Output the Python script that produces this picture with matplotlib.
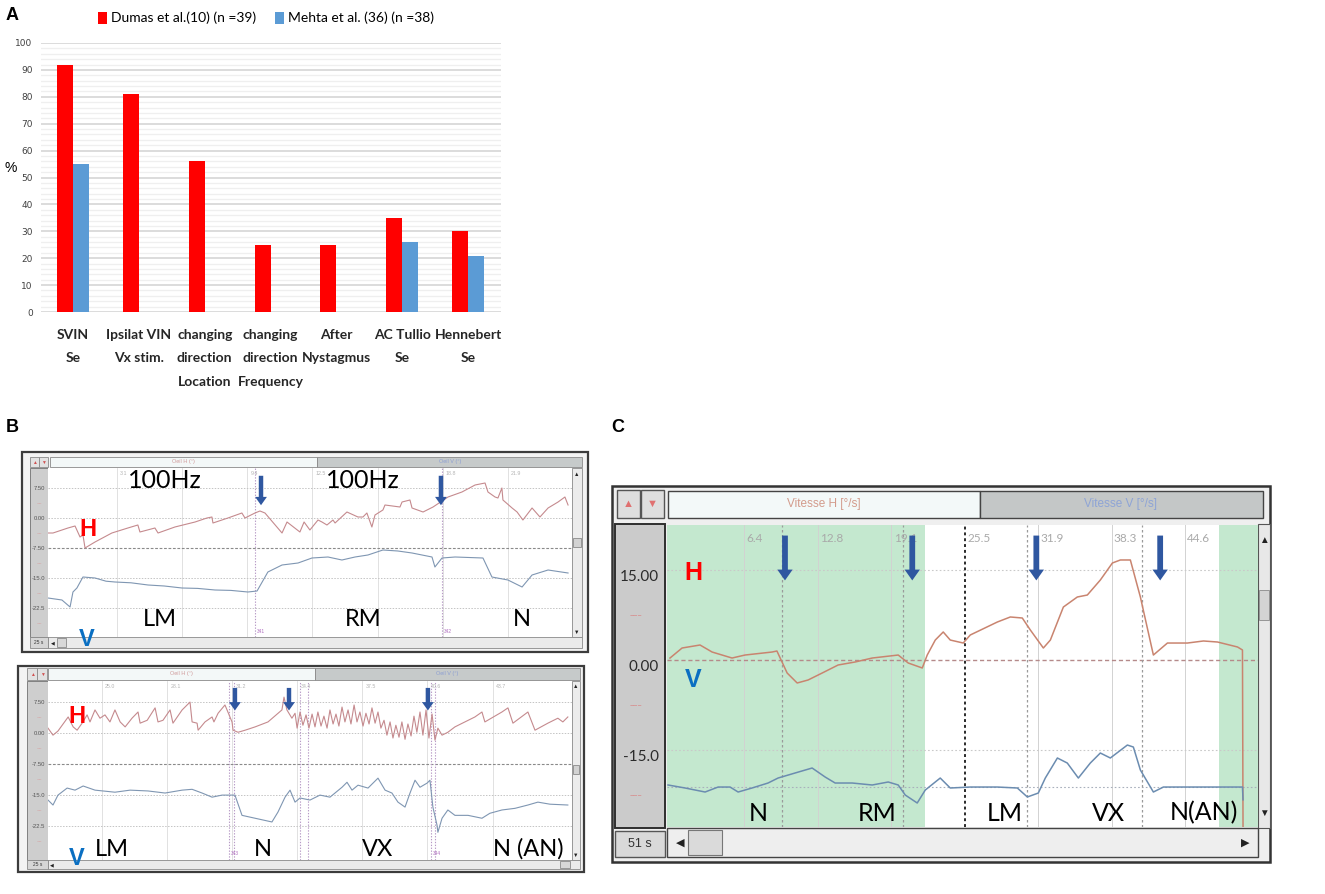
import matplotlib
matplotlib.use("Agg")
import matplotlib.pyplot as plt
from matplotlib import font_manager
from matplotlib.patches import Rectangle, FancyArrowPatch
import numpy as np

# ---------------- panel A data ----------------
categories = ["SVIN\nSe", "Ipsilat VIN\nVx stim.", "changing\ndirection\nLocation",
              "changing\ndirection\nFrequency", "After\nNystagmus", "AC Tullio\nSe", "Hennebert\nSe"]
dumas = [92, 81, 56, 25, 25, 35, 30]
mehta = [55, 0, 0, 0, 0, 26, 21]
series_names = ["Dumas et al.(10) (n =39)", "Mehta et al. (36) (n =38)"]
a_yticks = list(range(0, 101, 10))

# ---------------- panel B, upper record (t in s, position in deg) ----------------
b1_h = [(-0.19, -3.75), (0.05, -3.75), (0.77, -2.5), (1.11, -2.0), (1.35, -4.75), (1.49, -4.25),
        (1.59, -7.5), (2.07, -6.0), (2.88, -3.75), (3.65, -2.5), (4.13, -1.75), (4.23, -3.5),
        (4.95, -2.5), (5.10, -3.75), (5.91, -2.25), (6.88, -1.0), (7.45, 0.0), (7.69, 0.25),
        (7.74, -1.25), (8.46, 0.0), (9.13, 1.25), (9.28, 0.0), (9.76, 1.25), (10.0, 1.75),
        (10.24, 1.25), (11.06, -3.75), (11.30, -1.0), (11.92, -3.5), (12.12, -1.0), (12.40, -3.0),
        (12.79, -0.5), (12.98, -1.0), (13.22, -1.75), (13.51, -0.5), (13.61, -1.25), (14.18, 1.5),
        (14.71, 0.25), (14.95, 0.25), (15.14, 1.25), (15.38, -2.25), (15.53, 0.75), (15.91, 2.0),
        (16.01, 3.25), (16.73, 2.75), (16.83, 4.0), (17.21, 4.5), (17.31, 2.5), (17.84, 1.5),
        (18.32, 2.75), (19.04, 5.25), (19.71, 6.5), (20.34, 8.25), (20.82, 8.75), (20.96, 6.5),
        (21.30, 5.25), (21.44, 5.0), (21.63, 7.5), (21.68, 4.5), (22.12, 2.5), (22.36, 1.5),
        (22.64, -0.5), (23.08, 2.5), (23.46, 0.25), (23.85, 2.5), (24.33, 4.0), (24.66, 5.25),
        (24.81, 3.25)]
b1_v = [(-0.19, -20.0), (0.48, -20.5), (0.87, -22.25), (1.01, -18.5), (1.20, -17.5), (1.49, -14.75),
        (2.07, -15.0), (2.6, -15.8), (3.03, -16.0), (3.8, -16.2), (4.62, -16.75), (5.4, -17.0),
        (6.25, -17.5), (7.0, -17.6), (7.84, -18.0), (8.6, -18.1), (9.42, -18.5), (9.86, -18.25),
        (10.38, -13.5), (11.06, -11.75), (11.83, -11.25), (12.5, -10.0), (13.27, -9.75),
        (13.94, -10.5), (14.57, -9.75), (15.19, -9.25), (15.91, -8.0), (16.63, -8.25),
        (17.31, -8.75), (18.27, -9.75), (18.41, -12.25), (18.75, -10.0), (19.38, -9.75),
        (20.72, -10.0), (21.15, -14.75), (21.92, -15.5), (22.60, -17.25), (23.08, -14.25),
        (23.85, -13.0), (24.81, -13.75)]
b1_grid_t = [3.13, 6.26, 9.39, 12.52, 15.65, 18.78, 21.91]
# labels hidden under the "100Hz" notes are left blank, as in the screenshot
b1_grid_lab = ["3.1", "", "9.4", "12.5", "", "18.8", "21.9"]
b1_markers = [9.76, 18.75]
b1_marker_lab = [(9.76, "341"), (18.75, "342")]
b1_arrows = [10.05, 18.7]

# ---------------- panel B, lower record ----------------
b2_h = [(22.40, 1.2), (22.64, -0.5), (22.88, 0.5), (23.37, 3.9), (23.61, 1.5), (23.80, 0.7),
        (24.04, 2.4), (24.28, 4.4), (24.42, 2.7), (24.66, 5.6), (24.90, 3.6), (25.14, 4.4),
        (25.38, 2.7), (25.62, 5.6), (25.87, 2.7), (26.11, 1.5), (26.44, 3.6), (26.73, 5.1),
        (26.83, 2.4), (27.17, 3.1), (27.55, 6.1), (27.69, 2.7), (27.93, 3.1), (28.27, 5.6),
        (28.41, 2.4), (28.85, 5.6), (29.23, 7.5), (29.33, 2.7), (29.57, 2.4), (29.62, 0.7),
        (29.95, 2.7), (30.29, 3.9), (30.38, 2.7), (30.58, 4.8), (30.91, 6.8), (31.01, 5.6),
        (31.25, 2.7), (31.30, 0.7), (31.54, 0.2), (31.88, 0.7), (32.36, 1.5), (32.98, 2.7),
        (33.65, 5.6), (33.75, 8.7), (33.89, 5.6), (34.13, 3.6), (34.28, 4.8), (34.38, 1.2),
        (34.52, 5.1), (34.66, 1.9), (34.81, 4.4), (34.95, 1.2), (35.10, 4.6), (35.24, 1.5),
        (35.38, 5.1), (35.53, 1.7), (35.67, 4.1), (35.82, 1.2), (35.96, 5.6), (36.11, 2.2),
        (36.25, 4.6), (36.39, 1.7), (36.54, 6.3), (36.68, 2.7), (36.83, 5.6), (36.97, 2.2),
        (37.12, 6.8), (37.26, 2.7), (37.40, 5.1), (37.55, 1.7), (37.69, 4.8), (37.84, 2.2),
        (37.98, 6.1), (38.13, 2.4), (38.27, 5.1), (38.41, 1.2), (38.56, 3.1), (38.70, -0.5),
        (38.85, 2.7), (38.99, -1.2), (39.13, 1.9), (39.28, -1.0), (39.42, 2.7), (39.57, -1.5),
        (39.71, 2.2), (39.86, -0.7), (40.00, 4.1), (40.14, 0.2), (40.29, 5.1), (40.43, -0.5),
        (40.58, 5.6), (40.72, -1.2), (40.87, 4.6), (41.01, -1.7), (41.15, 1.2), (41.35, -0.5),
        (41.63, 0.2), (41.97, 1.5), (42.93, 3.9), (43.27, 5.1), (43.41, 2.7), (44.23, 5.1),
        (44.52, 6.1), (44.76, 2.4), (45.48, 5.1), (45.82, 0.7), (46.44, 2.4), (46.92, 3.6),
        (47.16, 2.7), (47.40, 3.9)]
b2_v = [(22.40, -16.2), (22.64, -17.4), (22.88, -15.0), (23.32, -13.3), (23.70, -13.8),
        (24.09, -12.8), (24.66, -13.8), (25.62, -14.3), (26.35, -13.8), (27.21, -14.0),
        (28.03, -14.5), (28.85, -13.8), (29.33, -13.6), (29.81, -14.5), (30.29, -15.5),
        (30.77, -15.0), (31.39, -15.0), (31.73, -19.9), (32.36, -20.6), (33.17, -21.5),
        (33.46, -19.1), (33.80, -15.5), (34.04, -13.8), (34.28, -16.7), (34.52, -15.7),
        (35.00, -16.2), (35.48, -15.0), (35.96, -15.5), (36.54, -13.1), (36.78, -11.9),
        (37.02, -13.8), (37.31, -12.6), (37.79, -13.3), (38.27, -10.9), (38.61, -13.8),
        (38.94, -14.5), (39.23, -16.7), (39.57, -17.9), (39.81, -14.5), (40.05, -11.4),
        (40.29, -13.1), (40.63, -12.1), (40.77, -11.4), (40.91, -17.9), (41.11, -22.3),
        (41.15, -24.0), (41.35, -20.6), (41.63, -18.6), (41.97, -19.9), (42.60, -19.9),
        (43.27, -20.6), (43.65, -19.4), (44.23, -18.6), (44.86, -18.2), (45.48, -17.4),
        (45.96, -16.7), (46.54, -17.2), (47.40, -17.4)]
b2_grid_t = [25.0, 28.13, 31.26, 34.39, 37.52, 40.65, 43.78]
b2_grid_lab = ["25.0", "28.1", "31.2", "34.4", "37.5", "40.6", "43.7"]
b2_markers = [31.11, 31.35, 34.52, 34.90, 40.82, 41.01]
b2_marker_lab = [(31.11, "343"), (40.82, "344")]
b2_arrows = [31.39, 33.99, 40.67]

b_yticks = [7.5, 0.0, -7.5, -15.0, -22.5]
b_ylabels = ["7.50", "0.00", "-7.50", "-15.0", "-22.5"]
b_minor = [3.75, -3.75, -11.25, -18.75, -26.25]

# ---------------- panel C (t in s, velocity in deg/s) ----------------
c_h = [(-0.09, 0.33), (0.96, 2.0), (2.52, 2.5), (3.57, 1.33), (5.30, 0.33), (6.43, 0.83),
       (8.78, 1.33), (9.2, 1.5), (10.09, -2.17), (10.96, -3.83), (11.91, -3.33), (13.13, -2.17),
       (14.52, -0.83), (16.0, -0.33), (17.48, 0.33), (19.74, 0.83), (20.61, -0.5), (21.83, -1.33),
       (22.26, 0.83), (22.96, 3.33), (23.65, 4.67), (24.26, 3.33), (25.39, 2.83), (26.0, 4.17),
       (28.35, 6.33), (29.48, 7.17), (30.52, 7.0), (31.22, 5.0), (32.35, 2.0), (32.96, 3.33),
       (34.09, 8.83), (35.3, 10.5), (36.17, 10.83), (37.3, 13.33), (38.35, 16.17), (39.04, 16.67),
       (39.91, 16.67), (40.78, 10.5), (41.91, 0.83), (43.13, 2.83), (44.87, 2.83), (46.26, 3.17),
       (47.48, 3.0), (49.22, 2.17), (49.65, 1.67), (49.7, -28.3)]
c_v = [(-0.26, -20.83), (1.22, -21.33), (2.96, -22.0), (4.09, -21.17), (5.13, -21.17),
       (5.83, -22.0), (7.04, -21.33), (8.43, -20.5), (9.30, -19.67), (10.78, -18.83),
       (12.26, -18.0), (13.39, -19.5), (14.26, -20.5), (15.74, -20.5), (17.48, -20.83),
       (18.87, -20.33), (19.74, -20.83), (20.35, -22.5), (21.39, -23.83), (22.09, -21.67),
       (22.96, -20.33), (23.39, -19.67), (24.26, -21.33), (26.0, -21.17), (28.35, -21.17),
       (30.09, -21.33), (30.96, -22.83), (31.91, -22.17), (32.52, -19.67), (33.57, -16.33),
       (34.43, -17.17), (35.39, -19.67), (36.43, -17.17), (37.3, -15.5), (38.17, -16.33),
       (39.65, -14.17), (40.17, -14.5), (40.78, -18.33), (41.91, -22.0), (42.78, -21.17),
       (45.74, -21.17), (49.65, -21.17), (49.7, -23.3)]
c_grid_t = [6.38, 12.76, 19.14, 25.52, 31.9, 38.28, 44.66]
c_grid_lab = ["6.4", "12.8", "19.1", "25.5", "31.9", "38.3", "44.6"]
c_markers = [9.65, 20.17, 30.96, 40.96]
c_arrows = [9.9, 20.96, 31.74, 42.5]
c_green = [(-0.35, 22.1), (47.6, 51.0)]
c_yticks = [15.0, 0.0, -15.0]
c_ylabels = ["15.00", "0.00", "-15.0"]
c_minor = [7.5, -7.5, -22.5]

# ---------------- fonts ----------------
W, H = 1325, 894
fig = plt.figure(figsize=(W / 100, H / 100), dpi=100)
installed = {f.name for f in font_manager.fontManager.ttflist}
LATO = "Lato" if "Lato" in installed else "DejaVu Sans"
ARIAL = "Liberation Sans" if "Liberation Sans" in installed else "DejaVu Sans"
SYMS = [ARIAL, "DejaVu Sans"]
ARROW = "#2f57a0"
HRED = "#ff0000"
VBLUE = "#0a6fc2"


def px_axes(x0, y0, x1, y1, **kw):
    return fig.add_axes([x0 / W, 1 - y1 / H, (x1 - x0) / W, (y1 - y0) / H], **kw)


# overlay in pixel units for the window chrome and panel letters
bg = fig.add_axes([0, 0, 1, 1])
bg.set_xlim(0, W)
bg.set_ylim(H, 0)
bg.axis("off")


def box(x0, y0, x1, y1, fc, ec="#8a8a8a", lw=0.6):
    bg.add_patch(Rectangle((x0, y0), x1 - x0, y1 - y0, facecolor=fc, edgecolor=ec, lw=lw))


def small(x, y, s, size, color="#333333", **kw):
    bg.text(x, y, s, fontsize=size, color=color, ha="center", va="center", family=SYMS, **kw)


for letter, x, y in [("A", 12, 15), ("B", 12, 427), ("C", 618, 427)]:
    bg.text(x, y, letter, fontsize=13, fontweight="bold", family=ARIAL, ha="center", va="center")

# ---------------- panel A ----------------
axA = px_axes(41, 43, 501, 312)
xs = np.arange(len(categories))
bw = 0.243
ha_ = axA.bar(xs - bw / 2, dumas, bw, color="#ff0000", zorder=3)
hb_ = axA.bar(xs + bw / 2, mehta, bw, color="#5b9bd5", zorder=3)
axA.set_xlim(-0.486, 6.5)
axA.set_ylim(0, 100)
axA.set_yticks(a_yticks)
axA.set_yticks(np.arange(0, 101, 2), minor=True)
axA.grid(which="minor", axis="y", color="#efefef", lw=0.9, zorder=0)
axA.grid(which="major", axis="y", color="#d6d6d6", lw=1.2, zorder=1)
axA.tick_params(axis="y", which="both", length=0, pad=6, labelsize=6.5, labelcolor="#404040")
axA.set_xticks(xs)
axA.set_xticklabels(categories, family=LATO, fontweight="bold", fontsize=10,
                    linespacing=2.15, color="#262626")
axA.tick_params(axis="x", length=0, pad=12)
for s in axA.spines.values():
    s.set_visible(False)
bg.text(11, 168, "%", fontsize=10, ha="center", va="center", family=ARIAL)
fig.legend([ha_, hb_], series_names, loc="center", bbox_to_anchor=(266 / W, 1 - 18 / H),
           ncol=2, frameon=False, prop=dict(family=LATO, size=10),
           handlelength=0.6, handleheight=0.95, handletextpad=0.3, columnspacing=1.4)

# ---------------- window chrome for B and C ----------------
# upper B window
box(22, 452, 588, 652, "#f3f3f3", ec="#3c3c3c", lw=1.6)
box(30, 457, 39, 467, "#e2e2e2")
box(39, 457, 48, 467, "#e2e2e2")
small(34.5, 462, "\u25b2", 3.5, "#d05050")
small(43.5, 462, "\u25bc", 3.5, "#d05050")
box(50, 457, 317, 467, "#f3f8f8")
box(317, 457, 582, 467, "#c6caca")
small(183, 462, "Oeil H (\u00b0)", 4, "#d09a9a")
small(450, 462, "Oeil V (\u00b0)", 4, "#8c9ed2")
box(30, 468, 48, 637, "#cecece", ec="#707070")
box(572, 468, 582, 637, "#ececec")
small(577, 474, "\u25b2", 4, "#222222")
small(577, 632, "\u25bc", 4, "#222222")
box(573, 538, 581, 547, "#d2d2d2")
box(48, 637, 582, 648, "#ebebeb")
box(30, 637, 48, 648, "#d6d6d6")
small(39, 642.5, "25 s", 3.5)
small(53, 642.5, "\u25c0", 3.5, "#222222")
box(57, 638, 66, 647, "#d8d8d8")

# lower B window
box(18, 666, 584, 872, "#f3f3f3", ec="#3c3c3c", lw=1.6)
box(27, 668, 37, 680, "#e2e2e2")
box(37, 668, 47, 680, "#e2e2e2")
small(32, 674, "\u25b2", 3.5, "#d05050")
small(42, 674, "\u25bc", 3.5, "#d05050")
box(48, 668, 315, 680, "#f3f8f8")
box(315, 668, 580, 680, "#c6caca")
small(181, 674, "Oeil H (\u00b0)", 4, "#d09a9a")
small(447, 674, "Oeil V (\u00b0)", 4, "#8c9ed2")
box(27, 681, 48, 860, "#cecece", ec="#707070")
box(572, 681, 580, 860, "#ececec")
small(576, 687, "\u25b2", 4, "#222222")
small(576, 855, "\u25bc", 4, "#222222")
box(573, 765, 579, 774, "#d2d2d2")
box(48, 860, 580, 869, "#ebebeb")
box(27, 860, 48, 869, "#d6d6d6")
small(37.5, 864.5, "25 s", 3.5)
small(52, 864.5, "\u25c0", 3.5, "#222222")
box(560, 861, 570, 868, "#d8d8d8")

# C window
box(612, 486, 1270, 862, "#efefef", ec="#333333", lw=1.8)
box(617, 490, 640, 518, "#dedede", ec="#555555", lw=1.0)
box(641, 490, 664, 518, "#dedede", ec="#555555", lw=1.0)
small(628.5, 504, "\u25b2", 8, "#e07070")
small(652.5, 504, "\u25bc", 8, "#e07070")
box(668, 491, 980, 518, "#f3f9f9", ec="#444444", lw=1.0)
box(980, 491, 1263, 518, "#c4c7c7", ec="#444444", lw=1.0)
small(824, 504.5, "Vitesse H [\u00b0/s]", 8.5, "#d39b8c")
small(1121, 504.5, "Vitesse V [\u00b0/s]", 8.5, "#8ea4d6")
box(615, 524, 665, 828, "#cbcbcb", ec="#2e2e2e", lw=1.4)
box(1258, 524, 1270, 828, "#e8e8e8", ec="#555555", lw=0.8)
small(1264, 540, "\u25b2", 7, "#222222")
small(1264, 813, "\u25bc", 7, "#222222")
box(1259, 590, 1269, 620, "#d4d4d4")
box(667, 828, 1258, 857, "#eeeeee", ec="#444444", lw=1.0)
box(615, 831, 665, 857, "#d9d9d9", ec="#555555", lw=1.0)
small(640, 844, "51 s", 9, "#333333")
small(680, 842.5, "\u25c0", 8, "#222222")
box(688, 830, 722, 855, "#dadada", ec="#777777", lw=0.8)
small(1245, 842.5, "\u25b6", 8, "#222222")


# ---------------- trace axes ----------------
def trace_axes(x0, y0, x1, y1, xlim, ylim):
    ax = px_axes(x0, y0, x1, y1)
    ax.set_xlim(*xlim)
    ax.set_ylim(*ylim)
    ax.set_facecolor("white")
    for s in ax.spines.values():
        s.set_visible(False)
    ax.set_xticks([])
    ax.tick_params(axis="y", which="both", length=0)
    return ax


def draw_arrow(ax, t, v0, v1, scale):
    ax.add_patch(FancyArrowPatch((t, v0), (t, v1),
                                 arrowstyle="simple,head_length=0.6,head_width=0.85,tail_width=0.32",
                                 mutation_scale=scale, color=ARROW, lw=0, zorder=6, clip_on=False))


def b_panel(box_px, xlim, ylim, h, v, grid_t, grid_lab, markers, marker_lab, arrows, arr_v):
    ax = trace_axes(*box_px, xlim, ylim)
    for t in grid_t:
        ax.axvline(t, color="#dcdcdc", lw=0.6, zorder=1)
    for t, lab in zip(grid_t, grid_lab):
        if lab:
            ax.text(t + 0.15, 0.985, lab, transform=ax.get_xaxis_transform(), fontsize=3.8,
                    color="#b4b4b4", ha="left", va="top", family=ARIAL)
    for y in b_yticks:
        if y == -7.5:
            ax.axhline(y, color="#8a8a8a", lw=0.8, ls=(0, (2.5, 1.5)), zorder=1)
        else:
            ax.axhline(y, color="#c4c4c4", lw=0.7, ls=(0, (1.5, 1.5)), zorder=1)
    for t in markers:
        ax.axvline(t, color="#b79ac6", lw=0.8, ls=(0, (1.2, 1.4)), zorder=2)
    for t, lab in marker_lab:
        ax.text(t + 0.1, 0.02, lab, transform=ax.get_xaxis_transform(), fontsize=3.5,
                color="#b070c0", ha="left", va="bottom", family=ARIAL)
    ht, hv = zip(*h)
    vt, vv = zip(*v)
    ax.plot(ht, hv, color="#c58a8e", lw=0.8, zorder=3)
    ax.plot(vt, vv, color="#7f96b2", lw=0.8, zorder=3)
    ax.set_yticks(b_yticks)
    ax.set_yticklabels(b_ylabels, fontsize=4.2, color="#555555", family=ARIAL)
    ax.set_yticks(b_minor, ["\u2013\u2013"] * len(b_minor), minor=True)
    ax.tick_params(axis="y", which="major", pad=2)
    ax.tick_params(axis="y", which="minor", pad=4, labelsize=4, labelcolor="#d89a9a")
    for t in arrows:
        draw_arrow(ax, t, arr_v[0], arr_v[1], 10)
    return ax


axB1 = b_panel((48, 468, 572, 637), (-0.19, 25.0), (-29.75, 12.5), b1_h, b1_v,
               b1_grid_t, b1_grid_lab, b1_markers, b1_marker_lab, b1_arrows, (11.25, 2.5))
axB2 = b_panel((48, 681, 572, 860), (22.40, 47.6), (-30.7, 12.6), b2_h, b2_v,
               b2_grid_t, b2_grid_lab, b2_markers, b2_marker_lab, b2_arrows, (11.6, 4.8))

txt = dict(family=LATO, ha="center", va="center", color="black")
hv_txt = dict(family=ARIAL, fontweight="bold", ha="center", va="center")
for s, t, v in [("100Hz", 5.43, 9.5), ("100Hz", 14.95, 9.5)]:
    axB1.text(t, v, s, fontsize=18, zorder=5, **txt)
for s, t in [("LM", 5.19), ("RM", 14.95), ("N", 22.6)]:
    axB1.text(t, -25.3, s, fontsize=17, **txt)
axB1.text(1.73, -3.0, "H", fontsize=17, color=HRED, **hv_txt)
axB1.text(1.68, -30.3, "V", fontsize=17, color=VBLUE, **hv_txt)

for s, t in [("LM", 25.48), ("N", 32.74), ("VX", 38.27), ("N (AN)", 45.48)]:
    axB2.text(t, -28.1, s, fontsize=17, **txt)
axB2.text(23.8, 3.9, "H", fontsize=17, color=HRED, **hv_txt)
axB2.text(23.8, -30.3, "V", fontsize=17, color=VBLUE, **hv_txt)

# ---------------- panel C ----------------
axC = trace_axes(667, 525, 1258, 827, (-0.35, 51.0), (-27.83, 22.5))
for a, b in c_green:
    axC.axvspan(a, b, color="#c4e8cf", lw=0, zorder=0)
for t, lab in zip(c_grid_t, c_grid_lab):
    if lab == "25.5":
        axC.axvline(t, color="#2a2a2a", lw=1.4, ls=(0, (1.5, 1.5)), zorder=2)
    else:
        axC.axvline(t, color="#d2d2d2", lw=0.7, zorder=1)
    axC.text(t + 0.2, 0.975, lab, transform=axC.get_xaxis_transform(), family=LATO,
             fontsize=8.5, color="#a9a9a9", ha="left", va="top")
for t in c_markers:
    axC.axvline(t, color="#9a9a9a", lw=0.9, ls=(0, (2, 2)), zorder=2)
axC.axhline(15, color="#c9c9c9", lw=0.8, ls=(0, (1.5, 2)), zorder=1)
axC.axhline(0, color="#b58a8a", lw=1.0, ls=(0, (3, 2)), zorder=1)
axC.axhline(-15, color="#c9c9c9", lw=0.8, ls=(0, (1.5, 2)), zorder=1)
axC.axhline(-21.2, color="#a9b0bc", lw=0.8, ls=(0, (1.5, 2)), zorder=1)
ct, cv = zip(*c_h)
axC.plot(ct, cv, color="#c9846f", lw=1.1, zorder=3)
vt, vv = zip(*c_v)
axC.plot(vt, vv, color="#6b8cb0", lw=1.1, zorder=3)
axC.set_yticks(c_yticks)
axC.set_yticklabels(c_ylabels, family=LATO, fontsize=11, color="#2b2b2b", va="top")
axC.set_yticks(c_minor, ["\u2013\u2013\u2013"] * len(c_minor), minor=True)
axC.tick_params(axis="y", which="major", pad=6)
axC.tick_params(axis="y", which="minor", pad=18, labelsize=6, labelcolor="#d88e8e")
for t in c_arrows:
    draw_arrow(axC, t, 21.2, 12.8, 13)
for s, t in [("N", 7.57), ("RM", 17.9), ("LM", 29.0), ("VX", 38.0), ("N(AN)", 46.26)]:
    axC.text(t, -25.5, s, fontsize=18, **txt)
axC.text(1.91, 14.5, "H", fontsize=18, color=HRED, **hv_txt)
axC.text(1.91, -3.3, "V", fontsize=18, color=VBLUE, **hv_txt)

fig.savefig("out.png", dpi=100)
